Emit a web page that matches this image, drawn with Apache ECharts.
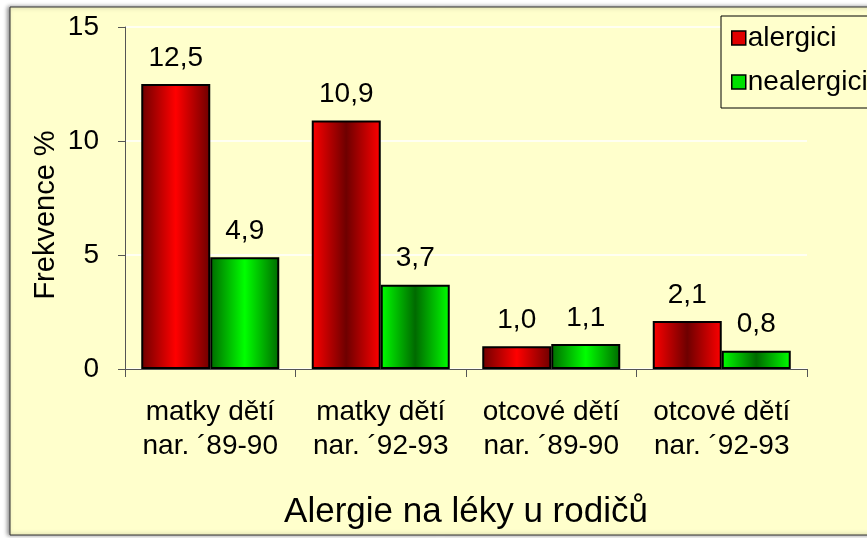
<!DOCTYPE html>
<html>
<head>
<meta charset="utf-8">
<script src="https://cdn.jsdelivr.net/npm/echarts@6/dist/echarts.min.js"></script>
<style>
html,body{margin:0;padding:0;background:#fff;}
#c{width:867px;height:538px;}
</style>
</head>
<body>
<div id="c"></div>
<script>
const categories = ['matky dětí\nnar. ´89-90', 'matky dětí\nnar. ´92-93', 'otcové dětí\nnar. ´89-90', 'otcové dětí\nnar. ´92-93'];
const alergici = [12.5, 10.9, 1.0, 2.1];
const nealergici = [4.9, 3.7, 1.1, 0.8];
const yTicks = [0, 5, 10, 15];
const seriesNames = ['alergici', 'nealergici'];
const xTitle = 'Alergie na léky u rodičů';
const yTitle = 'Frekvence %';

const FONT = '"Liberation Sans", Arial, sans-serif';
const chart = echarts.init(document.getElementById('c'), null, {renderer: 'canvas'});

function grad(dark, bright, darkEdges) {
  const e = darkEdges ? dark : bright, m = darkEdges ? bright : dark;
  return new echarts.graphic.LinearGradient(0, 0, 1, 0, [
    {offset: 0, color: e}, {offset: 0.5, color: m}, {offset: 1, color: e}
  ]);
}
function makeData(vals, dark, bright) {
  return vals.map((v, i) => ({
    value: v,
    itemStyle: {color: grad(dark, bright, i % 2 === 0)}
  }));
}
const fmt = p => p.value.toFixed(1).replace('.', ',');

chart.setOption({
  animation: false,
  backgroundColor: '#ffffff',
  graphic: [{
    type: 'rect',
    z: -10,
    shape: {x: 10, y: 7, width: 900, height: 528},
    style: {fill: '#FFFFCC', stroke: '#333333', lineWidth: 1,
      shadowBlur: 4, shadowColor: 'rgba(0,0,0,0.45)', shadowOffsetX: -2, shadowOffsetY: 0}
  }, {
    type: 'text',
    x: 46, y: 215,
    rotation: Math.PI / 2,
    style: {text: yTitle, font: '29px ' + FONT, fill: '#000', align: 'center', verticalAlign: 'middle'}
  }],
  legend: {
    left: 721, top: 16,
    orient: 'vertical',
    padding: [8, 30, 12, 10],
    itemGap: 16,
    itemWidth: 14, itemHeight: 14,
    borderColor: '#000', borderWidth: 1,
    backgroundColor: '#FFFFCC',
    textStyle: {fontFamily: FONT, fontSize: 28, color: '#000', padding: [0, 0, 0, -3]},
    data: [
      {name: seriesNames[0], icon: 'rect', itemStyle: {color: '#E00000', borderColor: '#000', borderWidth: 1.5}},
      {name: seriesNames[1], icon: 'rect', itemStyle: {color: '#00E000', borderColor: '#000', borderWidth: 1.5}}
    ]
  },
  grid: {left: 125, right: 60, top: 27, bottom: 169},
  xAxis: {
    type: 'category',
    data: categories,
    name: xTitle,
    nameLocation: 'middle',
    nameGap: 126,
    nameTextStyle: {fontFamily: FONT, fontSize: 35, color: '#000'},
    axisLine: {lineStyle: {color: '#555', width: 1}},
    axisTick: {show: true, length: 8, lineStyle: {color: '#555'}},
    axisLabel: {interval: 0, hideOverlap: false, fontFamily: FONT, fontSize: 28, color: '#000', margin: 26, lineHeight: 34}
  },
  yAxis: {
    type: 'value',
    min: yTicks[0], max: yTicks[yTicks.length - 1], interval: 5,
    axisLine: {show: true, lineStyle: {color: '#555', width: 1}},
    axisTick: {show: true, length: 7, lineStyle: {color: '#555'}},
    axisLabel: {fontFamily: FONT, fontSize: 28, color: '#000', margin: 26},
    splitLine: {lineStyle: {color: '#ffffff', width: 1.5}}
  },
  series: [
    {
      name: seriesNames[0], type: 'bar', barWidth: 69, barGap: '0%',
      data: makeData(alergici, '#6E0000', '#FF0000'),
      itemStyle: {color: '#E00000', borderColor: '#000', borderWidth: 2},
      label: {show: true, position: 'top', distance: 12, formatter: fmt,
        fontFamily: FONT, fontSize: 28, color: '#000'}
    },
    {
      name: seriesNames[1], type: 'bar', barWidth: 69, barGap: '0%',
      data: makeData(nealergici, '#006A00', '#00FF00'),
      itemStyle: {color: '#00E000', borderColor: '#000', borderWidth: 2},
      label: {show: true, position: 'top', distance: 12, formatter: fmt,
        fontFamily: FONT, fontSize: 28, color: '#000'}
    }
  ]
});
</script>
</body>
</html>
